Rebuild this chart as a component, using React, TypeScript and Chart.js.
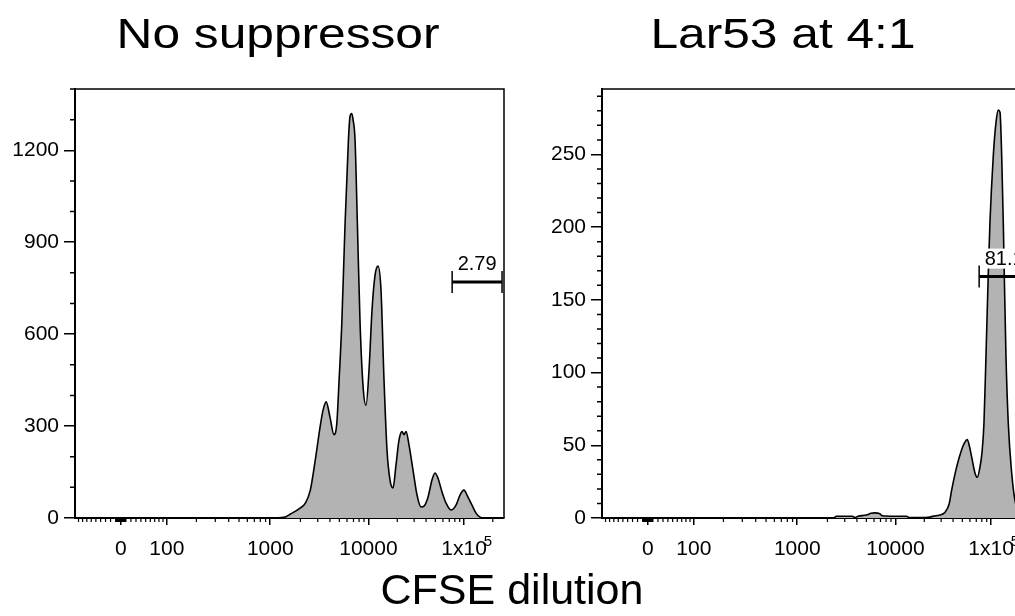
import React, { useEffect, useRef } from "react";
import { Chart, registerables, LinearScale } from "chart.js";

Chart.register(...registerables);

const FONT = "'Liberation Sans', Arial, Helvetica, sans-serif";

// ---------------- data ----------------
const PANEL_TITLES = ["No suppressor", "Lar53 at 4:1"];
const X_AXIS_TITLE = "CFSE dilution";

// No suppressor: CFSE intensity vs cell count
const NO_SUPP_CFSE = [-100, 1000, 1360, 1590, 2000, 2250, 2520, 2830, 3180, 3400, 3660, 4000, 4400, 4710, 4970, 5300, 5730, 6200, 6450, 6720, 6930, 7270, 7680, 8190, 8860, 9450, 10150, 10900, 11720, 12590, 13530, 14540, 15620, 16790, 18040, 19390, 20840, 22400, 23520, 24690, 26530, 29200, 32150, 35400, 38060, 41890, 46130, 49600, 53320, 58720, 64660, 73000, 82340, 90670, 99800, 109900, 121000, 133400, 146900, 162000, 262144];
const NO_SUPP_COUNT = [0, 0, 2, 13, 33, 49, 91, 189, 300, 352, 379, 330, 272, 310, 450, 636, 962, 1232, 1311, 1320, 1300, 1232, 962, 636, 417, 368, 483, 678, 792, 822, 743, 450, 222, 124, 98, 173, 254, 282, 272, 282, 238, 156, 75, 36, 39, 68, 124, 147, 130, 85, 49, 26, 42, 75, 91, 68, 42, 16, 3, 0, 0];

// Lar53 at 4:1
const LAR53_CFSE = [-100, 2300, 2475, 2930, 3600, 3800, 4100, 5000, 5600, 6060, 6900, 7300, 10000, 13000, 14000, 22000, 25000, 29000, 33000, 36500, 38600, 43560, 49150, 53000, 56300, 59000, 62600, 67800, 71700, 76500, 80300, 84200, 88400, 93400, 97300, 105500, 112600, 119000, 124000, 129200, 134300, 137600, 143300, 151500, 164400, 178100, 201000, 225000, 262144];
const LAR53_COUNT = [0, 0, 1.2, 1.2, 1.2, 0.3, 1.2, 2, 3.2, 3.5, 3, 1.5, 1.2, 1.2, 0.3, 0.5, 1.3, 2, 4, 10, 19, 35, 47, 52, 54, 50, 42, 31, 28, 35, 45, 65, 111, 167, 203, 249, 272, 280.5, 279, 249, 203, 167, 111, 65, 31, 12, 3, 0, 0];

// axis ticks
const X_MAJOR_TICKS = [0, 100, 1000, 10000, 100000];
const X_TICK_LABELS = ["0", "100", "1000", "10000", "1x10"];
const X_TICK_SUPERSCRIPT = "5";
const X_MINOR_TICKS = [
  -100, -90, -80, -70, -60, -50, -40, -30, -20, -10, -9, -8, -7, -6, -5, -4, -3, -2, -1,
  1, 2, 3, 4, 5, 6, 7, 8, 9, 10, 20, 30, 40, 50, 60, 70, 80, 90,
  200, 300, 400, 500, 600, 700, 800, 900,
  2000, 3000, 4000, 5000, 6000, 7000, 8000, 9000,
  20000, 30000, 40000, 50000, 60000, 70000, 80000, 90000, 200000,
];
const LEFT_Y_MAX = 1400;
const LEFT_Y_STEP = 300;
const LEFT_Y_MINOR = 100;
const RIGHT_Y_MAX = 295;
const RIGHT_Y_STEP = 50;
const RIGHT_Y_MINOR = 10;

// gate
const GATE_RANGE = [75000, 250000];
const LEFT_GATE_Y = 770;
const RIGHT_GATE_Y = 166;
const LEFT_GATE_LABEL = "2.79";
const RIGHT_GATE_LABEL = "81.1";

// ---------------- logicle transform ----------------
const LOGICLE = (() => {
  const T = 262144, W = 0.48, M = 4.5, A = 0;
  const w = W / (M + A);
  const x2 = A / (M + A);
  const x1 = x2 + w;
  const x0 = x2 + 2 * w;
  const b = (M + A) * Math.LN10;
  const fd = (d: number) => 2 * (Math.log(d) - Math.log(b)) + w * (b + d);
  let lo = 1e-12, hi = b;
  for (let i = 0; i < 200; i++) {
    const m = (lo + hi) / 2;
    if (fd(m) > 0) hi = m; else lo = m;
  }
  const d = (lo + hi) / 2;
  const ca = Math.exp(x0 * (b + d));
  const mfa = Math.exp(b * x1) - ca / Math.exp(d * x1);
  const a = T / (Math.exp(b) - mfa - ca / Math.exp(d));
  const c = ca * a;
  const f = -mfa * a;
  const S = (x: number): number =>
    x < x1 ? -S(2 * x1 - x) : a * Math.exp(b * x) - c * Math.exp(-d * x) + f;
  const toDisplay = (v: number) => {
    let l = -1, h = 2;
    for (let i = 0; i < 70; i++) {
      const m = (l + h) / 2;
      if (S(m) < v) l = m; else h = m;
    }
    return (l + h) / 2;
  };
  return { T, S, toDisplay };
})();

class LogicleScale extends LinearScale {
  static id = "logicle";
  static defaults = {};
  determineDataLimits() {
    (this as any).min = LOGICLE.S(0);
    (this as any).max = LOGICLE.T;
  }
  buildTicks() {
    return X_MAJOR_TICKS.map((value) => ({ value }));
  }
  getPixelForValue(value: number) {
    if (value === null || value === undefined || Number.isNaN(value)) return NaN;
    return (this as any).getPixelForDecimal(LOGICLE.toDisplay(value));
  }
  getValueForPixel(pixel: number) {
    return LOGICLE.S((this as any).getDecimalForPixel(pixel));
  }
}
Chart.register(LogicleScale as any);

Chart.defaults.font.family = FONT;
Chart.defaults.color = "#000";

const X_TICK_LEN = 7;
const X_TICK_PAD = 12;
const TICK_FONT_SIZE = 21;

type PanelOpts = {
  xs: number[];
  ys: number[];
  yMax: number;
  yStep: number;
  yMinor: number;
  yAxisWidth: number;
  padding: { left: number; right: number; top: number; bottom: number };
  title: string;
  titleX: number;
  gateY: number;
  gateLabel: string;
  axisTitleX?: number;
};

function decorPlugin(o: PanelOpts) {
  return {
    id: "decor",
    afterDraw(chart: any) {
      const ctx = chart.ctx as CanvasRenderingContext2D;
      const { left, right, top, bottom } = chart.chartArea;
      const x = chart.scales.x;
      const y = chart.scales.y;
      ctx.save();
      ctx.strokeStyle = "#000";
      ctx.fillStyle = "#000";
      // frame top + right
      ctx.lineWidth = 1.5;
      ctx.beginPath();
      ctx.moveTo(left, top);
      ctx.lineTo(right, top);
      ctx.lineTo(right, bottom);
      ctx.stroke();
      // x minor ticks
      ctx.lineWidth = 1.2;
      ctx.beginPath();
      for (const v of X_MINOR_TICKS) {
        if (v < x.min) continue;
        const px = x.getPixelForValue(v);
        ctx.moveTo(px, bottom);
        ctx.lineTo(px, bottom + 4);
      }
      ctx.stroke();
      // y minor ticks
      ctx.lineWidth = 1.5;
      ctx.beginPath();
      for (let v = o.yMinor; v <= o.yMax + 0.001; v += o.yMinor) {
        if (Math.abs(v % o.yStep) < 1e-6) continue;
        const py = y.getPixelForValue(v);
        ctx.moveTo(left - 5, py);
        ctx.lineTo(left, py);
      }
      ctx.stroke();
      // superscript on 1x10^5
      ctx.font = `${TICK_FONT_SIZE}px ${FONT}`;
      const lw = ctx.measureText(X_TICK_LABELS[4]).width;
      const sx = x.getPixelForValue(X_MAJOR_TICKS[4]) + lw / 2 - 3;
      const labelMid = bottom + X_TICK_LEN + X_TICK_PAD + (TICK_FONT_SIZE * 1.2) / 2;
      ctx.font = `15px ${FONT}`;
      ctx.textAlign = "left";
      ctx.textBaseline = "alphabetic";
      ctx.fillText(X_TICK_SUPERSCRIPT, sx, labelMid - 4);
      // gate
      const gx1 = x.getPixelForValue(GATE_RANGE[0]);
      const gx2 = x.getPixelForValue(GATE_RANGE[1]);
      const gy = y.getPixelForValue(o.gateY);
      ctx.font = `20px ${FONT}`;
      ctx.textAlign = "center";
      const tw = ctx.measureText(o.gateLabel).width;
      const cx = (gx1 + gx2) / 2;
      ctx.fillStyle = "#fff";
      ctx.fillRect(cx - tw / 2 - 2, gy - 28, tw + 4, 20);
      ctx.fillStyle = "#000";
      ctx.fillText(o.gateLabel, cx, gy - 12);
      ctx.lineWidth = 3;
      ctx.beginPath();
      ctx.moveTo(gx1, gy);
      ctx.lineTo(gx2, gy);
      ctx.stroke();
      ctx.lineWidth = 1.5;
      ctx.beginPath();
      ctx.moveTo(gx1, gy - 11);
      ctx.lineTo(gx1, gy + 11);
      ctx.moveTo(gx2, gy - 11);
      ctx.lineTo(gx2, gy + 11);
      ctx.stroke();
      // panel title
      ctx.font = `43px ${FONT}`;
      ctx.textAlign = "center";
      ctx.textBaseline = "alphabetic";
      ctx.save();
      ctx.translate(o.titleX, 48);
      ctx.scale(1.155, 1);
      ctx.fillText(o.title, 0, 0);
      ctx.restore();
      // shared axis title
      if (o.axisTitleX !== undefined) {
        ctx.font = `43px ${FONT}`;
        ctx.textAlign = "center";
        ctx.fillText(X_AXIS_TITLE, o.axisTitleX, 604);
      }
      ctx.restore();
    },
  };
}

function makeConfig(o: PanelOpts): any {
  return {
    type: "line",
    data: {
      datasets: [
        {
          data: o.xs.map((x, i) => ({ x, y: o.ys[i] })),
          borderColor: "#000",
          borderWidth: 1.6,
          backgroundColor: "#b3b3b3",
          fill: "origin",
          pointRadius: 0,
          cubicInterpolationMode: "monotone",
        },
      ],
    },
    options: {
      responsive: false,
      animation: false,
      events: [],
      layout: { padding: o.padding },
      plugins: {
        legend: { display: false },
        tooltip: { enabled: false },
        title: { display: false },
      },
      scales: {
        x: {
          type: "logicle",
          position: "bottom",
          afterFit: (s: any) => {
            s.height = 40;
          },
          grid: {
            display: true,
            drawOnChartArea: false,
            drawTicks: true,
            tickLength: X_TICK_LEN,
            color: "#000",
            lineWidth: 1.5,
          },
          border: { display: true, color: "#000", width: 2 },
          ticks: {
            autoSkip: false,
            maxRotation: 0,
            minRotation: 0,
            padding: X_TICK_PAD,
            color: "#000",
            font: { size: TICK_FONT_SIZE, family: FONT },
            callback: (v: number) => {
              const i = X_MAJOR_TICKS.indexOf(v);
              return i >= 0 ? X_TICK_LABELS[i] : "";
            },
          },
        },
        y: {
          type: "linear",
          position: "left",
          min: 0,
          max: o.yMax,
          afterFit: (s: any) => {
            s.width = o.yAxisWidth;
          },
          grid: {
            display: true,
            drawOnChartArea: false,
            drawTicks: true,
            tickLength: 11,
            color: "#000",
            lineWidth: 1.5,
          },
          border: { display: true, color: "#000", width: 2 },
          ticks: {
            stepSize: o.yStep,
            includeBounds: false,
            padding: 5,
            color: "#000",
            font: { size: TICK_FONT_SIZE, family: FONT },
            callback: (v: number) => String(v),
          },
        },
      },
    },
    plugins: [decorPlugin(o)],
  };
}

export default function App() {
  const leftRef = useRef<HTMLCanvasElement | null>(null);
  const rightRef = useRef<HTMLCanvasElement | null>(null);

  useEffect(() => {
    if (!leftRef.current || !rightRef.current) return;
    const left = new Chart(
      leftRef.current,
      makeConfig({
        xs: NO_SUPP_CFSE,
        ys: NO_SUPP_COUNT,
        yMax: LEFT_Y_MAX,
        yStep: LEFT_Y_STEP,
        yMinor: LEFT_Y_MINOR,
        yAxisWidth: 75,
        padding: { left: 0, right: 511, top: 89, bottom: 58 },
        title: PANEL_TITLES[0],
        titleX: 278,
        gateY: LEFT_GATE_Y,
        gateLabel: LEFT_GATE_LABEL,
        axisTitleX: 512,
      })
    );
    const right = new Chart(
      rightRef.current,
      makeConfig({
        xs: LAR53_CFSE,
        ys: LAR53_COUNT,
        yMax: RIGHT_Y_MAX,
        yStep: RIGHT_Y_STEP,
        yMinor: RIGHT_Y_MINOR,
        yAxisWidth: 62,
        padding: { left: 0, right: 29, top: 89, bottom: 58 },
        title: PANEL_TITLES[1],
        titleX: 783 - 540,
        gateY: RIGHT_GATE_Y,
        gateLabel: RIGHT_GATE_LABEL,
      })
    );
    return () => {
      left.destroy();
      right.destroy();
    };
  }, []);

  return (
    <div
      style={{
        position: "absolute",
        left: 0,
        top: 0,
        width: 1015,
        height: 616,
        overflow: "hidden",
        background: "#fff",
      }}
    >
      <canvas
        ref={leftRef}
        width={1015}
        height={616}
        style={{ position: "absolute", left: 0, top: 0, width: 1015, height: 616 }}
      />
      <canvas
        ref={rightRef}
        width={520}
        height={616}
        style={{ position: "absolute", left: 540, top: 0, width: 520, height: 616 }}
      />
    </div>
  );
}
